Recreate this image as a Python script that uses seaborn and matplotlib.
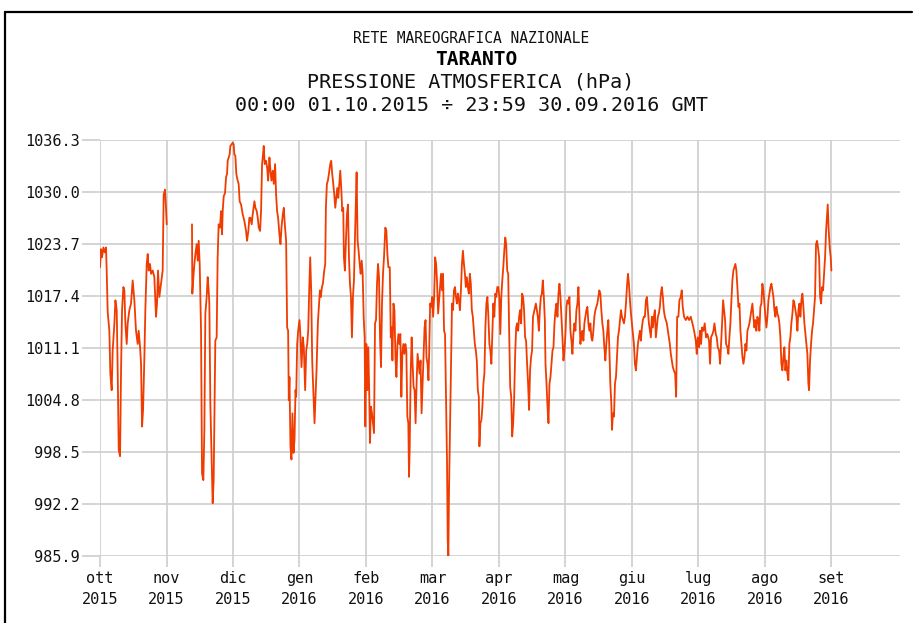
import pandas as pd
import matplotlib.pyplot as plt
import seaborn as sns
from matplotlib.lines import Line2D

# Pressione atmosferica Taranto, ott 2015 - set 2016
# asse x in mesi dal 01.10.2015 (ogni mese ha la stessa larghezza nel grafico)

# tratto 1: ottobre fino al buco di dati di inizio novembre
mesi_a = [0.000, 0.015, 0.030, 0.050, 0.070, 0.090, 0.100, 0.115, 0.140, 0.155,
          0.175, 0.190, 0.216, 0.231, 0.251, 0.266, 0.281, 0.301, 0.316, 0.331,
          0.351, 0.366, 0.381, 0.401, 0.416, 0.441, 0.466, 0.491, 0.516, 0.541,
          0.566, 0.581, 0.602, 0.617, 0.632, 0.647, 0.667, 0.682, 0.702, 0.717,
          0.732, 0.752, 0.767, 0.792, 0.817, 0.842, 0.857, 0.872, 0.892, 0.942,
          0.957, 0.977, 0.992, 1.003]
hpa_a = [1020.9, 1023.1, 1022.1, 1023.3, 1022.7, 1023.3, 1020.5, 1015.5, 1013.2, 1008.0,
         1006.0, 1010.8, 1014.1, 1016.9, 1015.7, 1008.0, 998.8, 998.0, 1008.4, 1015.7,
         1018.5, 1018.1, 1014.1, 1011.6, 1014.1, 1015.7, 1016.5, 1019.3, 1016.9, 1013.2,
         1011.6, 1013.2, 1011.2, 1009.2, 1001.6, 1003.6, 1010.0, 1015.9, 1021.3, 1022.5,
         1020.5, 1021.3, 1020.1, 1020.5, 1019.7, 1014.9, 1016.5, 1020.5, 1017.3, 1020.5,
         1029.7, 1030.3, 1028.1, 1026.1]

# tratto 2: da metà novembre a fine agosto
mesi_b = [1.383, 1.388, 1.404, 1.419, 1.434, 1.454, 1.469, 1.484, 1.499, 1.519,
          1.534, 1.554, 1.569, 1.584, 1.604, 1.619, 1.634, 1.644, 1.659, 1.679,
          1.694, 1.709, 1.719, 1.734, 1.754, 1.769, 1.784, 1.804, 1.820, 1.835,
          1.845, 1.860, 1.880, 1.895, 1.910, 1.920, 1.935, 1.950, 1.960, 1.980,
          1.995, 2.010, 2.020, 2.035, 2.050, 2.070, 2.085, 2.100, 2.121, 2.146,
          2.171, 2.196, 2.211, 2.231, 2.246, 2.261, 2.281, 2.296, 2.322, 2.337,
          2.357, 2.372, 2.387, 2.407, 2.422, 2.437, 2.447, 2.462, 2.477, 2.497,
          2.513, 2.528, 2.548, 2.563, 2.578, 2.598, 2.613, 2.633, 2.648, 2.663,
          2.678, 2.698, 2.714, 2.729, 2.749, 2.764, 2.779, 2.799, 2.814, 2.829,
          2.839, 2.849, 2.864, 2.879, 2.894, 2.910, 2.925, 2.940, 2.950, 2.965,
          2.980, 3.000, 3.015, 3.030, 3.050, 3.065, 3.085, 3.101, 3.116, 3.131,
          3.146, 3.161, 3.176, 3.191, 3.206, 3.226, 3.241, 3.256, 3.276, 3.291,
          3.307, 3.322, 3.337, 3.352, 3.372, 3.387, 3.397, 3.412, 3.427, 3.442,
          3.462, 3.477, 3.492, 3.508, 3.523, 3.538, 3.553, 3.568, 3.583, 3.598,
          3.613, 3.628, 3.643, 3.658, 3.668, 3.683, 3.698, 3.714, 3.729, 3.744,
          3.759, 3.774, 3.789, 3.804, 3.819, 3.834, 3.849, 3.859, 3.874, 3.889,
          3.905, 3.920, 3.935, 3.950, 3.965, 3.980, 3.990, 4.005, 4.020, 4.035,
          4.050, 4.060, 4.075, 4.090, 4.106, 4.121, 4.136, 4.151, 4.166, 4.181,
          4.196, 4.211, 4.226, 4.241, 4.256, 4.271, 4.291, 4.307, 4.322, 4.337,
          4.358, 4.373, 4.383, 4.398, 4.413, 4.428, 4.443, 4.458, 4.473, 4.488,
          4.502, 4.517, 4.532, 4.547, 4.562, 4.577, 4.592, 4.607, 4.622, 4.637,
          4.647, 4.657, 4.672, 4.687, 4.701, 4.716, 4.731, 4.746, 4.761, 4.776,
          4.791, 4.806, 4.821, 4.836, 4.851, 4.866, 4.881, 4.896, 4.910, 4.925,
          4.940, 4.950, 4.965, 4.980, 4.995, 5.010, 5.025, 5.040, 5.055, 5.070,
          5.085, 5.100, 5.114, 5.129, 5.144, 5.159, 5.174, 5.189, 5.204, 5.219,
          5.229, 5.239, 5.249, 5.264, 5.279, 5.294, 5.308, 5.323, 5.338, 5.353,
          5.368, 5.383, 5.398, 5.413, 5.428, 5.443, 5.458, 5.473, 5.488, 5.502,
          5.517, 5.532, 5.547, 5.562, 5.577, 5.592, 5.607, 5.622, 5.637, 5.652,
          5.667, 5.682, 5.697, 5.706, 5.721, 5.736, 5.751, 5.766, 5.781, 5.796,
          5.811, 5.826, 5.841, 5.856, 5.871, 5.886, 5.901, 5.915, 5.930, 5.945,
          5.960, 5.975, 5.990, 6.005, 6.020, 6.035, 6.050, 6.065, 6.080, 6.095,
          6.109, 6.124, 6.139, 6.154, 6.169, 6.184, 6.199, 6.214, 6.229, 6.244,
          6.259, 6.274, 6.289, 6.303, 6.318, 6.333, 6.348, 6.363, 6.378, 6.393,
          6.408, 6.423, 6.438, 6.453, 6.468, 6.483, 6.498, 6.512, 6.555, 6.570,
          6.585, 6.600, 6.615, 6.630, 6.645, 6.660, 6.675, 6.690, 6.700, 6.715,
          6.730, 6.745, 6.760, 6.775, 6.790, 6.805, 6.820, 6.835, 6.850, 6.865,
          6.880, 6.895, 6.910, 6.925, 6.940, 6.955, 6.970, 6.985, 7.000, 7.015,
          7.030, 7.045, 7.060, 7.075, 7.090, 7.105, 7.120, 7.135, 7.150, 7.165,
          7.180, 7.195, 7.210, 7.225, 7.240, 7.255, 7.270, 7.285, 7.300, 7.315,
          7.330, 7.345, 7.360, 7.375, 7.390, 7.405, 7.420, 7.435, 7.450, 7.465,
          7.480, 7.495, 7.510, 7.525, 7.540, 7.555, 7.570, 7.585, 7.600, 7.615,
          7.630, 7.645, 7.660, 7.675, 7.690, 7.700, 7.715, 7.730, 7.745, 7.760,
          7.775, 7.790, 7.805, 7.820, 7.835, 7.850, 7.865, 7.880, 7.895, 7.910,
          7.925, 7.940, 7.955, 7.970, 7.985, 8.000, 8.015, 8.030, 8.045, 8.060,
          8.075, 8.090, 8.105, 8.120, 8.135, 8.150, 8.165, 8.180, 8.195, 8.210,
          8.225, 8.240, 8.255, 8.270, 8.285, 8.300, 8.315, 8.330, 8.345, 8.360,
          8.375, 8.390, 8.405, 8.420, 8.435, 8.450, 8.465, 8.480, 8.495, 8.510,
          8.525, 8.540, 8.555, 8.570, 8.585, 8.600, 8.615, 8.630, 8.650, 8.665,
          8.680, 8.699, 8.714, 8.734, 8.749, 8.764, 8.784, 8.810, 8.835, 8.860,
          8.885, 8.910, 8.935, 8.960, 8.975, 8.990, 9.010, 9.025, 9.040, 9.055,
          9.075, 9.095, 9.115, 9.135, 9.160, 9.175, 9.190, 9.211, 9.226, 9.241,
          9.261, 9.276, 9.291, 9.311, 9.326, 9.341, 9.356, 9.371, 9.386, 9.401,
          9.416, 9.436, 9.451, 9.466, 9.481, 9.496, 9.511, 9.526, 9.541, 9.556,
          9.571, 9.586, 9.602, 9.617, 9.632, 9.647, 9.662, 9.677, 9.692, 9.707,
          9.722, 9.737, 9.752, 9.767, 9.782, 9.797, 9.812, 9.827, 9.842, 9.857,
          9.872, 9.887, 9.902, 9.917, 9.932, 9.947, 9.962, 9.977, 9.992, 10.008,
          10.023, 10.038, 10.053, 10.068, 10.083, 10.098, 10.113, 10.128, 10.143, 10.158,
          10.173, 10.188, 10.203, 10.218, 10.233, 10.248, 10.263, 10.278, 10.293, 10.308,
          10.323, 10.338, 10.353, 10.368, 10.383, 10.398, 10.414, 10.429, 10.444, 10.459,
          10.474, 10.489, 10.504, 10.519, 10.534, 10.549, 10.564, 10.579, 10.594, 10.609,
          10.624, 10.639, 10.654, 10.664, 10.679, 10.694, 10.709, 10.724, 10.739, 10.754,
          10.769, 10.784, 10.799, 10.815, 10.830, 10.845, 10.860, 10.875, 10.890, 10.905,
          10.920, 10.935, 10.945, 10.960, 10.975, 10.990, 11.000]
hpa_b = [1026.1, 1017.7, 1019.7, 1021.3, 1022.5, 1023.7, 1021.7, 1024.1, 1021.3, 1013.2,
         995.9, 995.1, 1001.2, 1015.3, 1017.3, 1019.7, 1018.1, 1016.5, 1004.4, 997.6,
         992.3, 995.1, 1002.0, 1012.0, 1012.4, 1022.1, 1026.1, 1025.7, 1027.7, 1024.9,
         1027.7, 1029.5, 1029.9, 1031.8, 1032.2, 1033.8, 1034.2, 1034.6, 1035.6, 1035.8,
         1036.0, 1035.8, 1034.6, 1034.4, 1032.2, 1031.4, 1031.0, 1028.9, 1028.5, 1027.3,
         1026.5, 1025.3, 1024.1, 1025.3, 1026.9, 1026.9, 1026.1, 1027.3, 1028.9, 1028.1,
         1027.7, 1026.9, 1025.7, 1025.3, 1027.7, 1033.4, 1034.2, 1035.6, 1033.4, 1033.8,
         1033.0, 1031.4, 1034.2, 1032.6, 1031.4, 1032.6, 1031.0, 1033.4, 1029.7, 1027.7,
         1026.9, 1024.9, 1023.7, 1025.7, 1027.3, 1028.1, 1026.1, 1024.1, 1013.6, 1013.2,
         1004.8, 1007.6, 999.2, 997.6, 1003.2, 998.4, 1000.0, 1006.0, 1005.2, 1011.6,
         1013.2, 1014.5, 1012.4, 1008.8, 1012.4, 1011.2, 1006.0, 1010.8, 1011.6, 1013.2,
         1018.1, 1022.1, 1018.1, 1009.6, 1006.4, 1002.0, 1005.2, 1008.4, 1014.1, 1016.1,
         1018.1, 1017.3, 1018.5, 1018.9, 1020.5, 1021.3, 1028.1, 1031.0, 1031.4, 1032.2,
         1033.4, 1033.8, 1032.2, 1031.0, 1029.7, 1028.1, 1029.3, 1030.5, 1029.3, 1031.0,
         1032.6, 1030.5, 1027.7, 1028.1, 1022.1, 1020.5, 1024.1, 1027.3, 1028.5, 1022.1,
         1018.9, 1017.3, 1012.4, 1017.3, 1019.3, 1024.5, 1029.3, 1032.4, 1024.1, 1022.9,
         1021.3, 1020.1, 1021.7, 1020.1, 1014.9, 1012.4, 1001.6, 1011.6, 1006.0, 1011.2,
         1005.2, 999.6, 1004.0, 1003.2, 1002.0, 1000.8, 1014.1, 1014.5, 1018.9, 1021.3,
         1019.7, 1012.4, 1008.8, 1016.5, 1020.1, 1022.1, 1025.7, 1025.3, 1022.5, 1020.9,
         1020.9, 1012.4, 1013.6, 1009.6, 1016.5, 1015.7, 1010.0, 1007.6, 1011.6, 1012.8,
         1011.6, 1012.8, 1005.2, 1010.4, 1011.6, 1010.4, 1011.6, 1010.8, 1002.8, 1002.0,
         995.5, 998.8, 1008.0, 1012.4, 1009.2, 1006.4, 1006.0, 1002.0, 1006.8, 1010.4,
         1009.2, 1008.0, 1009.6, 1003.2, 1006.8, 1010.0, 1013.6, 1014.5, 1010.0, 1009.2,
         1007.2, 1010.4, 1016.5, 1016.1, 1017.3, 1014.9, 1017.3, 1022.1, 1021.3, 1018.9,
         1015.3, 1016.9, 1018.5, 1020.1, 1018.1, 1020.1, 1013.2, 1012.8, 1004.8, 997.2,
         987.9, 985.9, 993.9, 1001.2, 1008.4, 1016.5, 1015.7, 1018.1, 1018.5, 1017.3,
         1016.5, 1017.7, 1016.9, 1015.7, 1018.1, 1021.3, 1022.9, 1021.3, 1020.1, 1018.5,
         1019.7, 1018.5, 1017.7, 1020.1, 1018.9, 1015.7, 1014.9, 1013.2, 1011.6, 1010.8,
         1009.6, 1006.0, 1005.2, 999.2, 1002.0, 1002.4, 1004.0, 1006.8, 1008.0, 1013.6,
         1016.5, 1017.3, 1014.9, 1011.6, 1010.8, 1009.2, 1013.2, 1016.5, 1014.9, 1017.7,
         1017.3, 1018.5, 1018.5, 1017.3, 1012.8, 1017.3, 1019.3, 1020.9, 1022.9, 1024.5,
         1023.7, 1020.5, 1020.1, 1012.8, 1006.4, 1005.2, 1000.4, 1002.0, 1005.2, 1010.4,
         1013.6, 1014.1, 1013.2, 1014.9, 1015.7, 1014.1, 1017.7, 1017.3, 1015.7, 1012.4,
         1012.0, 1009.2, 1006.8, 1003.6, 1008.4, 1010.0, 1010.8, 1014.9, 1016.5, 1015.7,
         1014.9, 1013.2, 1015.7, 1017.3, 1017.7, 1019.3, 1017.3, 1014.5, 1009.2, 1006.8,
         1004.0, 1002.0, 1006.8, 1007.6, 1009.2, 1010.8, 1011.2, 1014.1, 1015.7, 1016.5,
         1014.9, 1017.7, 1018.9, 1017.3, 1014.9, 1012.4, 1009.6, 1010.8, 1012.8, 1016.1,
         1016.9, 1016.5, 1017.3, 1013.2, 1012.0, 1010.4, 1012.8, 1014.1, 1013.2, 1015.7,
         1016.5, 1018.5, 1015.3, 1011.6, 1012.8, 1013.2, 1012.0, 1014.1, 1014.9, 1015.7,
         1016.1, 1014.1, 1013.2, 1014.1, 1012.4, 1012.0, 1013.2, 1014.9, 1015.7, 1016.1,
         1016.5, 1017.3, 1018.1, 1017.7, 1015.7, 1014.1, 1013.2, 1011.2, 1009.6, 1011.6,
         1013.2, 1014.5, 1011.2, 1006.8, 1004.4, 1001.2, 1003.2, 1002.8, 1006.8, 1007.6,
         1010.0, 1012.4, 1013.2, 1014.5, 1015.7, 1014.9, 1014.5, 1014.1, 1014.9, 1016.5,
         1018.5, 1020.1, 1018.9, 1016.9, 1015.3, 1014.1, 1012.8, 1011.6, 1009.2, 1008.4,
         1010.0, 1011.6, 1012.4, 1013.2, 1012.0, 1013.6, 1014.5, 1014.9, 1014.9, 1016.9,
         1017.3, 1015.7, 1014.1, 1013.2, 1012.4, 1014.9, 1013.6, 1014.9, 1015.7, 1012.4,
         1013.6, 1014.9, 1015.3, 1016.1, 1017.7, 1018.5, 1017.3, 1015.7, 1014.9, 1014.5,
         1014.1, 1013.2, 1012.4, 1011.6, 1010.4, 1009.6, 1008.8, 1008.4, 1008.0, 1005.2,
         1014.9, 1014.9, 1016.9, 1017.3, 1018.1, 1016.1, 1014.9, 1014.5, 1014.9, 1014.5,
         1014.9, 1014.1, 1013.2, 1012.0, 1010.4, 1012.4, 1011.2, 1013.2, 1011.6, 1013.6,
         1013.2, 1014.1, 1012.4, 1012.8, 1012.0, 1009.2, 1012.4, 1012.8, 1013.2, 1014.1,
         1012.8, 1012.4, 1011.2, 1010.8, 1009.2, 1011.6, 1014.1, 1016.9, 1015.7, 1014.5,
         1011.6, 1011.2, 1010.4, 1012.4, 1014.1, 1016.9, 1019.3, 1020.5, 1020.9, 1021.3,
         1020.5, 1018.5, 1016.1, 1016.5, 1013.2, 1011.6, 1010.0, 1009.2, 1010.0, 1011.6,
         1010.8, 1013.2, 1013.6, 1014.1, 1014.9, 1015.7, 1016.5, 1014.9, 1013.6, 1014.5,
         1013.2, 1014.9, 1014.5, 1013.2, 1016.1, 1016.5, 1018.9, 1018.1, 1016.5, 1014.9,
         1013.6, 1014.9, 1016.9, 1017.7, 1018.5, 1018.9, 1018.1, 1017.3, 1015.7, 1014.9,
         1016.1, 1015.3, 1014.9, 1014.1, 1012.4, 1009.2, 1008.4, 1010.0, 1011.2, 1008.4,
         1009.6, 1008.0, 1007.2, 1011.6, 1012.4, 1014.1, 1015.3, 1016.9, 1016.5, 1015.7,
         1014.9, 1013.2, 1015.7, 1016.5, 1014.9, 1016.9, 1017.7, 1016.1, 1014.1, 1012.8,
         1011.6, 1010.4, 1006.8, 1006.0, 1009.6, 1011.6, 1013.2, 1014.1, 1015.7, 1017.3,
         1023.7, 1024.1, 1023.3, 1022.1, 1017.3, 1016.5, 1018.5, 1018.1, 1020.1, 1022.1,
         1025.3, 1027.3, 1028.5, 1025.3, 1023.3, 1022.1, 1020.5]

nomi_mesi = ["ott", "nov", "dic", "gen", "feb", "mar", "apr", "mag", "giu", "lug", "ago", "set"]
anni = ["2015", "2015", "2015", "2016", "2016", "2016", "2016", "2016", "2016", "2016", "2016", "2016"]
valori_y = [985.9, 992.2, 998.5, 1004.8, 1011.1, 1017.4, 1023.7, 1030.0, 1036.3]

df = pd.concat([
    pd.DataFrame({"mese": mesi_a, "hPa": hpa_a, "tratto": 0}),
    pd.DataFrame({"mese": mesi_b, "hPa": hpa_b, "tratto": 1}),
], ignore_index=True)

sns.set_theme(style="whitegrid")
plt.rcParams["font.family"] = ["DejaVu Sans Mono"]

fig = plt.figure(figsize=(9.22, 6.23), dpi=100)
ax = fig.add_axes([0.1085, 0.1075, 0.8675, 0.6675])

sns.lineplot(data=df, x="mese", y="hPa", units="tratto", estimator=None,
             color="#f03c00", linewidth=1.3, ax=ax)

ax.set_xlim(0, 12.03)
ax.set_ylim(valori_y[0], valori_y[-1])
ax.set_xticks(range(len(nomi_mesi)))
ax.set_xticklabels([f"{m}\n{a}" for m, a in zip(nomi_mesi, anni)], linespacing=1.45)
ax.set_yticks(valori_y)
ax.set_yticklabels([f"{v:.1f}" for v in valori_y])
ax.set_xlabel("")
ax.set_ylabel("")

ax.grid(True, color="#cdcdcd", linewidth=1.2)
for s in ax.spines.values():
    s.set_visible(False)
ax.tick_params(axis="x", length=8, width=1.2, color="#cdcdcd", pad=3,
               labelsize=11, labelcolor="#111111", bottom=True)
ax.tick_params(axis="y", length=13, width=1.2, color="#cdcdcd", pad=1.5,
               labelsize=11, labelcolor="#111111", left=True)

# intestazione
fig.text(0.511, 0.939, "RETE MAREOGRAFICA NAZIONALE", ha="center", va="center", fontsize=10.5, color="#111111")
fig.text(0.516, 0.905, "TARANTO", ha="center", va="center", fontsize=14, fontweight="bold", color="#000000")
fig.text(0.511, 0.868, "PRESSIONE ATMOSFERICA (hPa)", ha="center", va="center", fontsize=14.5, color="#111111")
fig.text(0.511, 0.830, "00:00 01.10.2015 ÷ 23:59 30.09.2016 GMT", ha="center", va="center", fontsize=14.5, color="#111111")

# cornice
fig.add_artist(Line2D([0.0055, 0.989], [0.981, 0.981], transform=fig.transFigure, color="black", linewidth=1.6))
fig.add_artist(Line2D([0.0055, 0.0055], [0.0, 0.981], transform=fig.transFigure, color="black", linewidth=1.6))

fig.savefig("out.png", dpi=100)
